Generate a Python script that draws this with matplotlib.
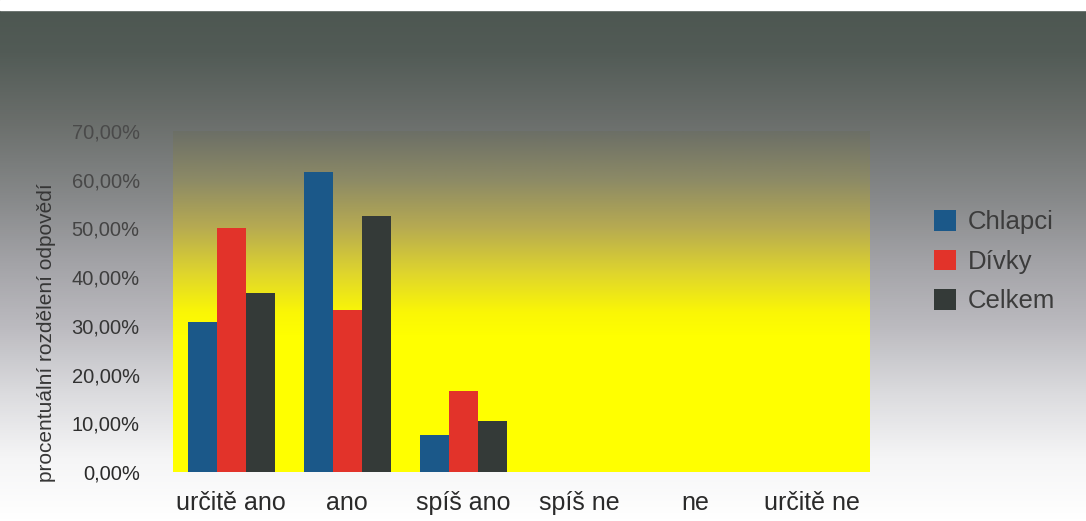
import numpy as np
import matplotlib.pyplot as plt
from matplotlib.colors import LinearSegmentedColormap

plt.rcParams['font.family'] = ['Liberation Sans', 'DejaVu Sans']

categories = ["určitě ano", "ano", "spíš ano", "spíš ne", "ne", "určitě ne"]
series_names = ["Chlapci", "Dívky", "Celkem"]
chlapci = [30.77, 61.54, 7.69, 0.0, 0.0, 0.0]
divky = [50.00, 33.33, 16.67, 0.0, 0.0, 0.0]
celkem = [36.84, 52.63, 10.53, 0.0, 0.0, 0.0]
y_ticks = [0, 10, 20, 30, 40, 50, 60, 70]

colors = ["#1b5889", "#e2332a", "#343a38"]

W, H = 1086, 521
fig = plt.figure(figsize=(W / 100, H / 100), dpi=100)

# ------------------------------------------------------------
# Figure background: dark grey-green at the top fading to white
# ------------------------------------------------------------
bg_ax = fig.add_axes([0, 0, 1, 1], zorder=-10)
bg_cmap = LinearSegmentedColormap.from_list(
    "bg",
    [
        (0.00, "#4c5650"),
        (0.10, "#525b56"),
        (0.23, "#6a6e6b"),
        (0.38, "#87898a"),
        (0.50, "#a2a2a6"),
        (0.63, "#bcbbc0"),
        (0.76, "#dcdcdf"),
        (0.88, "#f5f5f6"),
        (1.00, "#ffffff"),
    ],
)
grad = np.linspace(0, 1, 512).reshape(-1, 1)
bg_ax.imshow(grad, cmap=bg_cmap, aspect="auto", extent=[0, 1, 0, 1],
             origin="upper")
# white strip along the top edge
bg_ax.axhspan(1 - 10 / H, 1, color="white")
bg_ax.set_xlim(0, 1)
bg_ax.set_ylim(0, 1)
bg_ax.axis("off")

# ------------------------------------------------------------
# Main plot area
# ------------------------------------------------------------
left, right, top, bottom = 173, 870, 131, 472
ax = fig.add_axes([left / W, (H - bottom) / H, (right - left) / W,
                   (bottom - top) / H])

x = np.arange(len(categories))
ymax = 70

plot_cmap = LinearSegmentedColormap.from_list(
    "plotbg",
    [
        (0.00, "#6c6f66"),
        (0.14, "#8c8a66"),
        (0.28, "#b6aa52"),
        (0.42, "#e0d62c"),
        (0.53, "#faf606"),
        (0.60, "#ffff00"),
        (1.00, "#ffff00"),
    ],
)
ax.imshow(grad, cmap=plot_cmap, aspect="auto",
          extent=[-0.5, len(categories) - 0.5, 0, ymax], origin="upper",
          zorder=0)

bar_w = 0.25
for i, (vals, name) in enumerate(zip([chlapci, divky, celkem], series_names)):
    ax.bar(x + (i - 1) * bar_w, vals, width=bar_w, color=colors[i],
           label=name, zorder=2)

ax.set_xlim(-0.5, len(categories) - 0.5)
ax.set_ylim(0, ymax)
ax.set_xticks(x)
ax.set_xticklabels(categories, fontsize=18, color="#2a2a2a")
ax.set_yticks(y_ticks)
ax.set_yticklabels([f"{v:.2f}".replace(".", ",") + "%" for v in y_ticks],
                   fontsize=14.5)
tick_greys = ["#2a2a2a", "#2e2e2e", "#323232", "#363636",
              "#3e3e3e", "#444444", "#484848", "#4a4a4a"]
for lbl, c in zip(ax.get_yticklabels(), tick_greys):
    lbl.set_color(c)
ax.tick_params(axis="both", length=0)
ax.tick_params(axis="y", pad=24)
ax.tick_params(axis="x", pad=14)
for s in ax.spines.values():
    s.set_visible(False)

fig.text(47 / W, (H - 333) / H, "procentuální rozdělení odpovědí",
         rotation=90, ha="center", va="center", fontsize=15, color="#363636")

handles, labels = ax.get_legend_handles_labels()
leg = fig.legend(handles, labels, loc="upper left",
                 bbox_to_anchor=(911 / W, (H - 187) / H),
                 frameon=False, fontsize=18.5, handlelength=0.85,
                 handleheight=0.85, handletextpad=0.45, labelspacing=0.6)
for t in leg.get_texts():
    t.set_color("#3c3c3c")

fig.savefig("out.png", dpi=100)
